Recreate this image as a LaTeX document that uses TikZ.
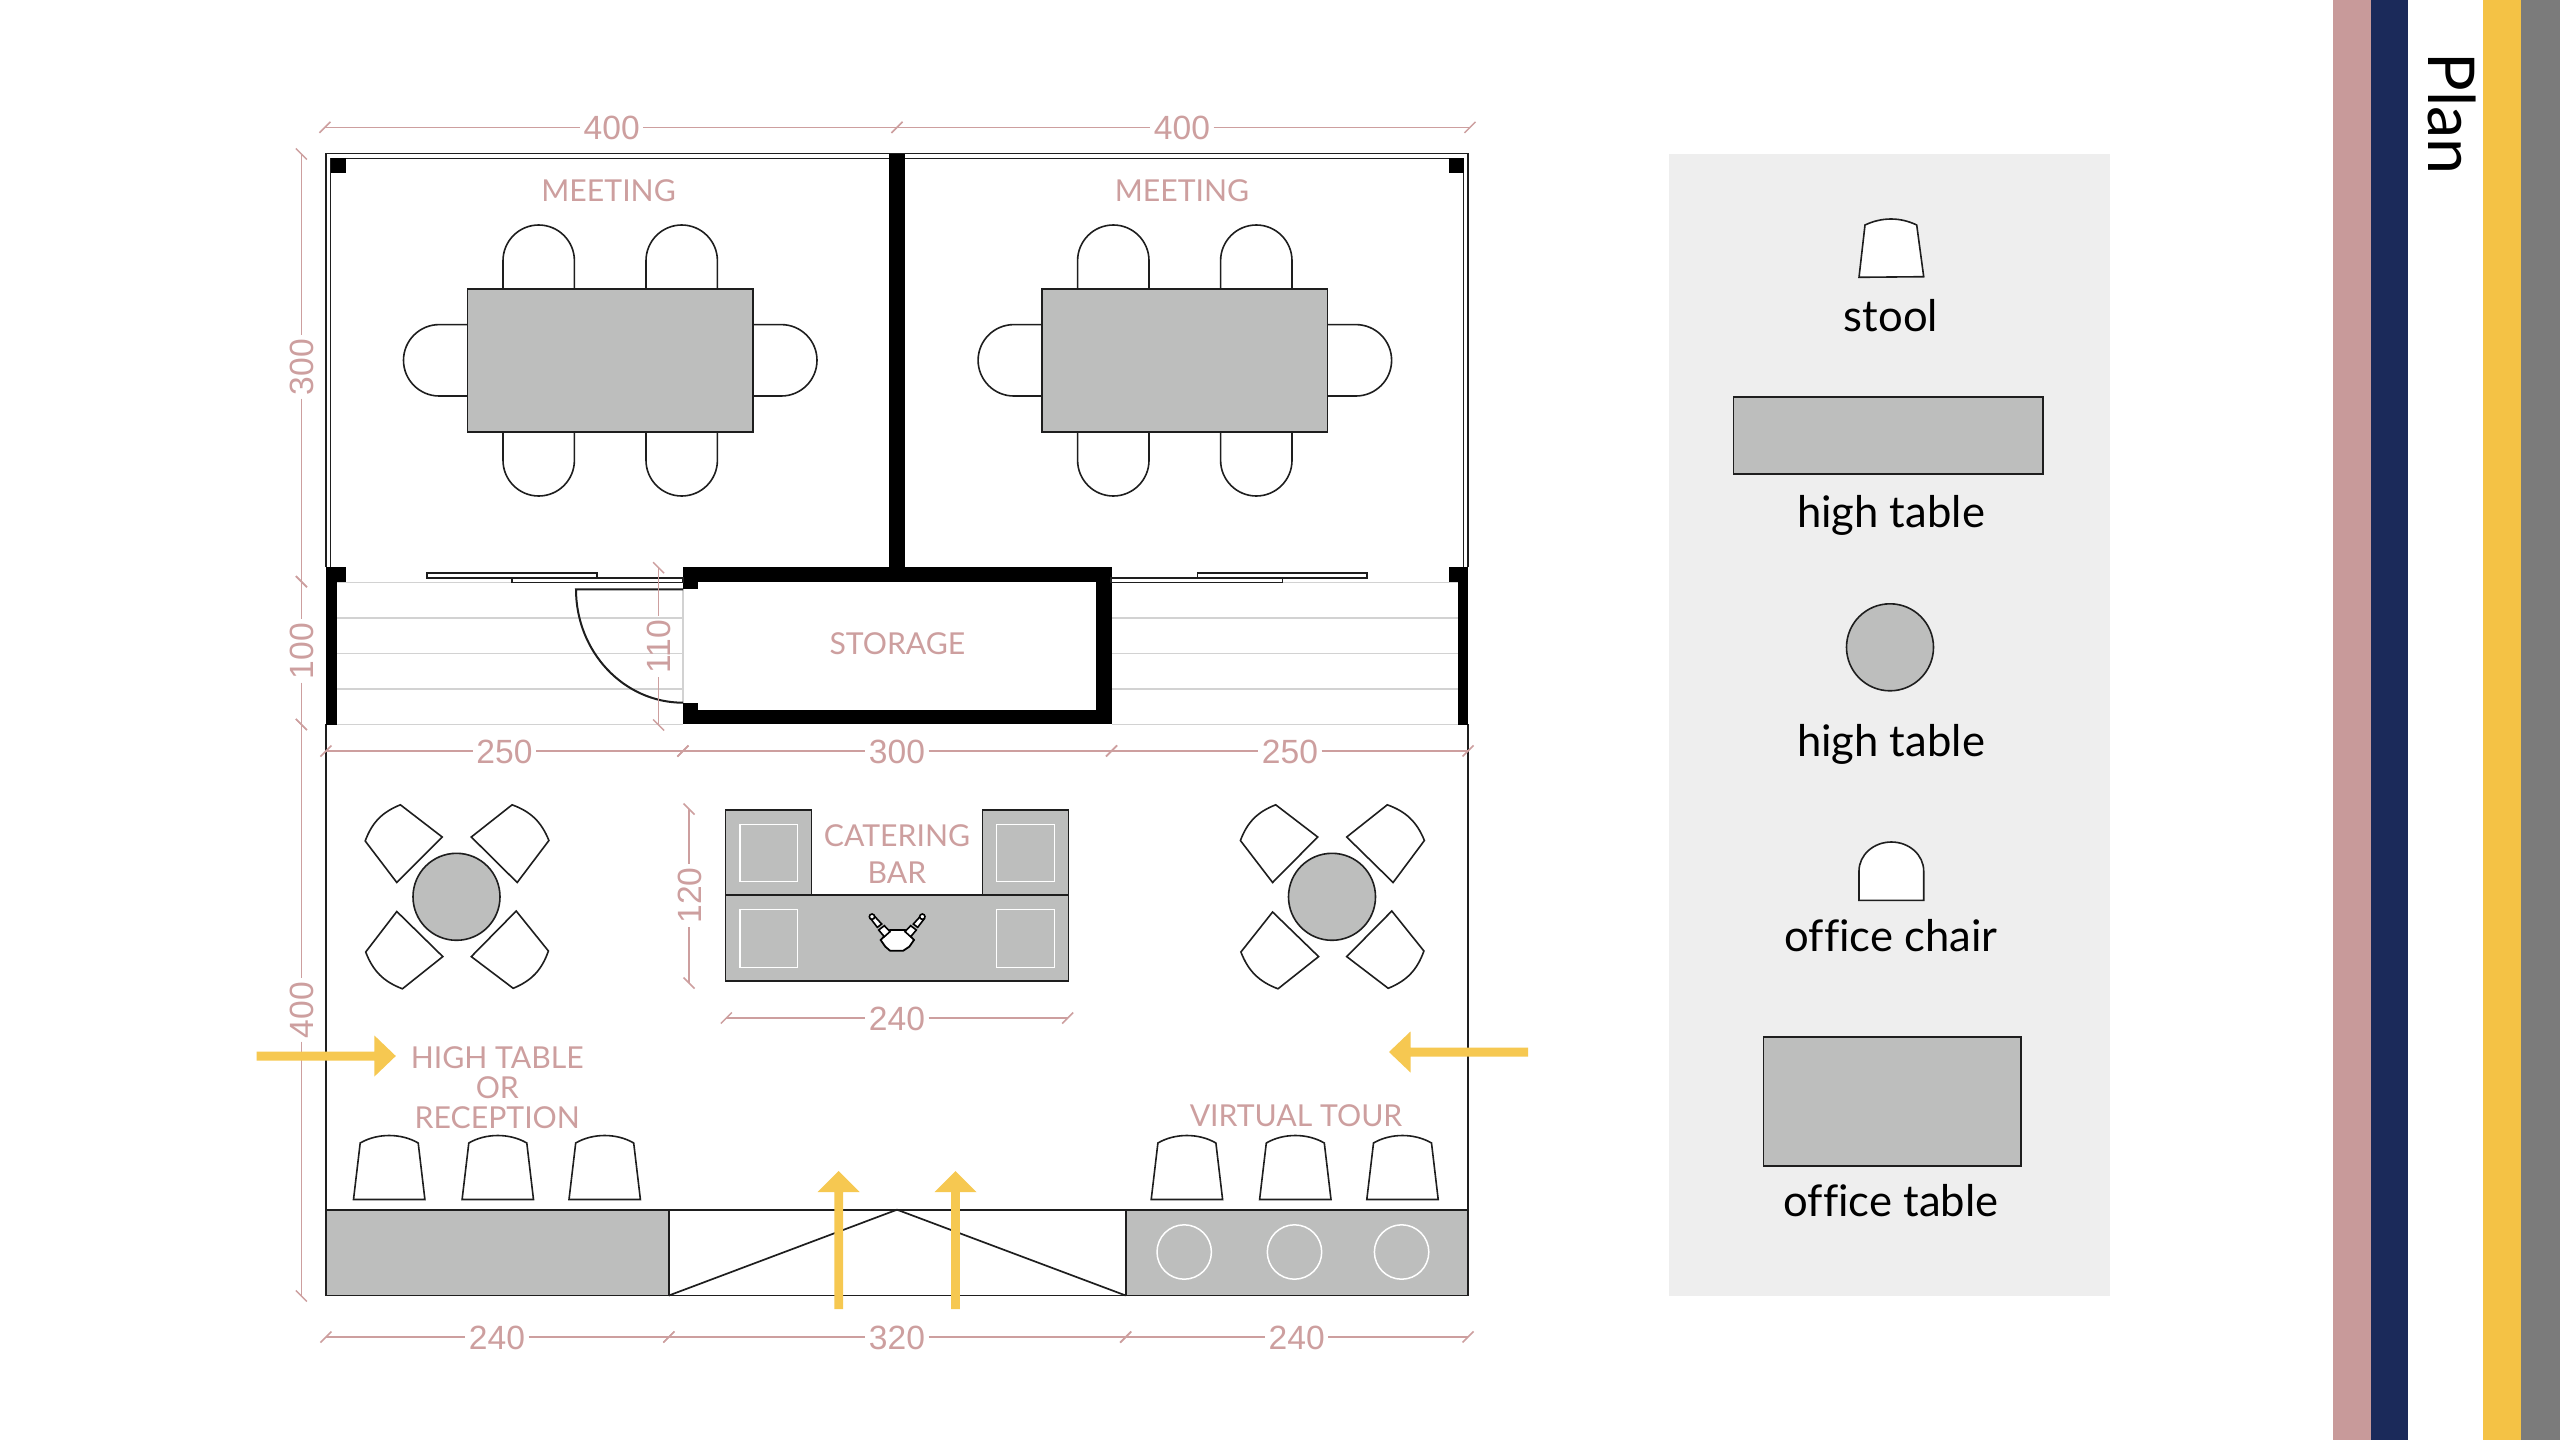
\documentclass[tikz,border=0pt]{standalone}
\usepackage{fontspec}
\setmainfont[Ligatures=NoCommon]{Lato}
\newfontfamily\dimfont{Liberation Sans}
\definecolor{pinkc}{HTML}{CD9F9F}
\definecolor{stripepink}{HTML}{C89A9A}
\definecolor{navyc}{HTML}{1B2A5A}
\definecolor{stripeyel}{HTML}{F4C245}
\definecolor{greyst}{HTML}{7B7B7B}
\definecolor{arrowy}{HTML}{F6C851}
\definecolor{tablec}{HTML}{BDBEBD}
\definecolor{panelc}{HTML}{EEEEEE}
\definecolor{linec}{HTML}{1E1E1E}
\definecolor{floorl}{HTML}{D2D2D2}
\tikzset{
  x=0.5pt,y=-0.5pt,
  dimline/.style={draw=pinkc,line width=0.75pt},
  dimlabel/.style={text=pinkc,font=\dimfont\fontsize{16.8}{16.8}\selectfont,inner xsep=1.6pt,inner ysep=0pt,text height=12pt,text depth=0pt},
  roomlabel/.style={text=pinkc,font=\fontsize{15.1}{15.1}\selectfont,inner sep=0pt,align=center},
  legendlabel/.style={text=black,font=\fontsize{21.8}{21.8}\selectfont,inner sep=0pt,anchor=base},
  furn/.style={draw=linec,line width=0.8pt,fill=white},
  tabletop/.style={draw=linec,line width=0.8pt,fill=tablec},
  plainline/.style={draw=linec,line width=0.85pt},
  floorline/.style={draw=floorl,line width=0.7pt},
  whiteline/.style={draw=white,line width=0.75pt},
  yarrow/.style={fill=arrowy},
  wallfill/.style={fill=black},
}
% horizontal dimension: name, y, x1, x2, label x, text
\newcommand{\dimH}[6]{%
  \coordinate (#1-a) at (#3,#2); \coordinate (#1-b) at (#4,#2);
  \node[dimlabel] (#1-l) at (#5,#2) {#6};
  \draw[dimline] (#1-a) -- (#1-l) -- (#1-b);
  \draw[dimline] ([shift={(-5.5,5.5)}]#1-a) -- ([shift={(5.5,-5.5)}]#1-a);
  \draw[dimline] ([shift={(-5.5,5.5)}]#1-b) -- ([shift={(5.5,-5.5)}]#1-b);
}
% vertical dimension: name, x, y1, y2, label y, text
\newcommand{\dimV}[6]{%
  \coordinate (#1-a) at (#2,#3); \coordinate (#1-b) at (#2,#4);
  \node[dimlabel,rotate=90] (#1-l) at (#2,#5) {#6};
  \draw[dimline] (#1-a) -- (#1-l) -- (#1-b);
  \draw[dimline] ([shift={(-5.5,-5.5)}]#1-a) -- ([shift={(5.5,5.5)}]#1-a);
  \draw[dimline] ([shift={(-5.5,-5.5)}]#1-b) -- ([shift={(5.5,5.5)}]#1-b);
}
\newcommand{\mchair}[3]{%
  \begin{scope}[shift={(#1,#2)},rotate=#3]
  \draw[furn] (-35.7,0) -- (-35.7,-28.3) .. controls (-35.7,-48) and (-19.7,-64) .. (0,-64)
     .. controls (19.7,-64) and (35.7,-48) .. (35.7,-28.3) -- (35.7,0);
  \end{scope}}
\newcommand{\meeting}[1]{%
  \begin{scope}[shift={(#1,0)}]
  \mchair{503+35.7}{289}{0}
  \mchair{646+35.7}{289}{0}
  \mchair{503+35.7}{432}{180}
  \mchair{646+35.7}{432}{180}
  \mchair{467.5}{360.3}{90}
  \mchair{753}{360.3}{-90}
  \filldraw[tabletop] (467.5,289) rectangle (753,432);
  \end{scope}}
% quarter chair: clockwise corners, last two joined by the bulge
\newcommand{\qchair}[4]{\draw[furn] (#1) -- (#2) -- (#3) -- (#4) to[bend left=24] (#1) -- cycle;}
\newcommand{\stool}[1]{\draw[furn] (#1-35.7,1199.5) -- (#1+35.7,1199.5) -- (#1+29,1143)
   .. controls (#1+12,1133) and (#1-12,1133) .. (#1-29,1143) -- cycle;}
\newcommand{\whitebox}[4]{\draw[whiteline] (#1,#2) rectangle (#3,#4);}
\begin{document}
\begin{tikzpicture}
\useasboundingbox (0,0) rectangle (2560,1440);
\fill[white] (0,0) rectangle (2560,1440);
% stripes
\fill[stripepink] (2333.3,0) rectangle (2371,1440);
\fill[navyc] (2371,0) rectangle (2408,1440);
\fill[stripeyel] (2482.7,0) rectangle (2521,1440);
\fill[greyst] (2521,0) rectangle (2560,1440);
\node[rotate=-90,anchor=base west,inner sep=0pt,font=\fontsize{32.3}{32.3}\selectfont] (plan) at (2428,52) {Plan};
% legend
\fill[panelc] (1669,154) rectangle (2110,1296);
\draw[furn] (1859,277.3) -- (1923.7,276.7) -- (1916.7,225) .. controls (1900,217) and (1882,217) .. (1865,225) -- cycle;
\node[legendlabel] (lstool) at (1891,331) {stool};
\filldraw[tabletop] (1733.3,397) rectangle (2042.7,474);
\node[legendlabel] (lhigh1) at (1891,527) {high table};
\filldraw[tabletop] (1890,647.3) circle[radius=43.5];
\node[legendlabel] (lhigh2) at (1891,756.5) {high table};
\draw[furn] (1859,900.3) -- (1859,871) .. controls (1859,855) and (1873.5,842) .. (1891.35,842)
  .. controls (1909.2,842) and (1923.7,855) .. (1923.7,871) -- (1923.7,900.3) -- cycle;
\node[legendlabel] (lchair) at (1891,951.5) {office chair};
\filldraw[tabletop] (1763.3,1037) rectangle (2021,1165.8);
\node[legendlabel] (ltable) at (1891,1216.5) {office table};
% floor lines
\foreach \yy in {582.3,617.8,653.3,689,724.3}{
  \draw[floorline] (337,\yy) -- (683,\yy);
  \draw[floorline] (1112,\yy) -- (1458,\yy);
}
\draw[floorline] (683,589) -- (683,703);
% outer outline
\draw[plainline] (326,567) -- (326,153.5) -- (1468,153.5) -- (1468,567);
\draw[plainline] (330.5,567) -- (330.5,158.4) -- (1463.5,158.4) -- (1463.5,567);
\draw[plainline] (326,724) -- (326,1295.5) -- (1468,1295.5) -- (1468,724);
% walls
\fill[wallfill] (330.5,158.4) rectangle (345.6,172.6);
\fill[wallfill] (1449,158.4) rectangle (1463.5,172.6);
\fill[wallfill] (889.4,153.5) rectangle (905,567.3);
\fill[wallfill] (326,567.3) rectangle (345.6,582.3);
\fill[wallfill] (326,567.3) rectangle (336.7,724.5);
\fill[wallfill] (1449,567.3) rectangle (1468,582.3);
\fill[wallfill] (1458,567.3) rectangle (1468,724.5);
\fill[wallfill] (682.7,567.3) rectangle (1112,582.3);
\fill[wallfill] (682.7,710) rectangle (1112,724.3);
\fill[wallfill] (1096,567.3) rectangle (1112,724.3);
\fill[wallfill] (682.7,567.3) rectangle (697.7,589.3);
\fill[wallfill] (682.7,702.7) rectangle (697.7,724.3);
% sliding doors and swing door
\filldraw[furn] (427,573) rectangle (596.7,577.7);
\filldraw[furn] (511.7,577.7) rectangle (683,582.3);
\filldraw[furn] (1197.3,573) rectangle (1367,577.7);
\filldraw[furn] (1111,577.7) rectangle (1282.3,582.3);
\draw[plainline,line width=1pt] (683,589.3) -- (576,589.3) .. controls (576,651.9) and (623.9,702.7) .. (683,702.7);
% meeting rooms
\meeting{0}
\meeting{574.6}
% catering bar
\filldraw[tabletop] (725.4,810) rectangle (811.6,895);
\filldraw[tabletop] (982.6,810) rectangle (1068.3,895);
\filldraw[tabletop] (725.4,895) rectangle (1068.3,981);
\whitebox{740.2}{824.5}{797.3}{881.6}
\whitebox{996.3}{824.5}{1054.5}{881.6}
\whitebox{740.2}{909.7}{797.3}{967.3}
\whitebox{996.3}{909.7}{1054.5}{967.3}
\begin{scope}[shift={(840,880)},x=0.16667pt,y=-0.16667pt]
  \draw[furn,draw=black,line width=0.9pt] (150,150) -- (195,150) -- (222,180) -- (208,200) -- (190,212) -- (150,212) -- (136,200) -- (122,180) -- cycle;
  \draw[furn,draw=black,line width=0.8pt] (116,150) -- (133,137) -- (150,155) -- (133,170) -- cycle;
  \draw[furn,draw=black,line width=0.8pt] (229,150) -- (212,137) -- (195,155) -- (212,170) -- cycle;
  \draw[furn,draw=black,line width=0.8pt] (112,142) -- (125,132) -- (103,108) -- (92,116) -- cycle;
  \draw[furn,draw=black,line width=0.8pt] (233,142) -- (220,132) -- (242,108) -- (253,116) -- cycle;
  \filldraw[furn,draw=black,line width=0.8pt] (96,110) circle[radius=8];
  \filldraw[furn,draw=black,line width=0.8pt] (247,110) circle[radius=8];
\end{scope}
% high tables with chairs
\qchair{400.4,804.8}{442.2,837}{396.8,882.5}{365.2,841}
\qchair{548.9,840.5}{517.2,882.5}{471.3,837}{512.1,804.8}
\qchair{365.7,952}{396.8,911.5}{442.8,956.6}{402.4,988.8}
\qchair{513.2,988.3}{471.3,956.6}{516.2,911}{548.4,951}
\filldraw[tabletop] (456.5,896.8) circle[radius=43.5];
\qchair{1275.7,804.8}{1317.7,837}{1272.6,882.5}{1240.4,840.5}
\qchair{1424.4,840.5}{1393.1,882.5}{1346.7,837}{1387.3,804.8}
\qchair{1240.9,952}{1272.6,912}{1318.6,956.6}{1278,988.8}
\qchair{1388.2,988.3}{1346.7,956.6}{1391.8,911}{1423.9,951}
\filldraw[tabletop] (1332,896.8) circle[radius=43.5];
% stools
\stool{389.2}\stool{497.8}\stool{604.7}
\stool{1186.9}\stool{1295.3}\stool{1402.5}
% bottom strip
\filldraw[tabletop] (326,1209.7) rectangle (668.8,1295.5);
\filldraw[tabletop] (1125.7,1209.7) rectangle (1468,1295.5);
\draw[plainline] (668.8,1209.7) -- (1125.7,1209.7);
\draw[plainline] (668.8,1295.5) -- (897,1209.7) -- (1125.7,1295.5);
\draw[whiteline] (1184.2,1252) circle[radius=27.2];
\draw[whiteline] (1294.5,1252) circle[radius=27.2];
\draw[whiteline] (1401.6,1252) circle[radius=27.2];
% room labels
\node[roomlabel] (m1) at (608.6,190.5) {MEETING};
\node[roomlabel] (m2) at (1182,190.5) {MEETING};
\node[roomlabel] (st) at (897.4,643.5) {STORAGE};
\node[roomlabel] (cat) at (897,836) {CATERING};
\node[roomlabel] (bar) at (897,873) {BAR};
\node[roomlabel] (hi) at (497.3,1058) {HIGH TABLE};
\node[roomlabel] (or) at (497.3,1088) {OR};
\node[roomlabel] (rec) at (497.3,1117.4) {RECEPTION};
\node[roomlabel] (vt) at (1296,1116) {VIRTUAL TOUR};
% dimensions
\dimH{t1}{127.3}{325}{897}{611.7}{400}
\dimH{t2}{127.3}{897}{1470}{1182}{400}
\dimH{m1d}{751}{326}{683}{504.5}{250}
\dimH{m2d}{751}{683}{1111.5}{897}{300}
\dimH{m3d}{751}{1111.5}{1468}{1290}{250}
\dimH{b1}{1337}{326}{668.8}{497}{240}
\dimH{b2}{1337}{668.8}{1125.7}{897}{320}
\dimH{b3}{1337}{1125.7}{1468}{1296.7}{240}
\dimH{c1}{1018}{726.4}{1067.7}{897}{240}
\dimV{v1}{301.4}{154}{581.6}{367}{300}
\dimV{v2}{301.4}{581.6}{724.5}{651}{100}
\dimV{v3}{301.4}{724.5}{1296}{1010}{400}
\dimV{v4}{658.6}{567.7}{725}{646.7}{110}
\dimV{v5}{689}{809}{983}{895.4}{120}
% yellow arrows
\fill[yarrow] (256.5,1051.5) -- (374.4,1051.5) -- (374.4,1035.5) -- (395.8,1056) -- (374.4,1076.5) -- (374.4,1060.5) -- (256.5,1060.5) -- cycle;
\fill[yarrow] (1528,1047.5) -- (1410.5,1047.5) -- (1410.5,1031.5) -- (1389,1052) -- (1410.5,1072.5) -- (1410.5,1056.5) -- (1528,1056.5) -- cycle;
\fill[yarrow] (834.4,1309) -- (834.4,1192) -- (817.7,1192) -- (838.7,1171) -- (859.7,1192) -- (843,1192) -- (843,1309) -- cycle;
\fill[yarrow] (951.2,1309) -- (951.2,1192) -- (934.5,1192) -- (955.5,1171) -- (976.5,1192) -- (959.8,1192) -- (959.8,1309) -- cycle;
\end{tikzpicture}
\end{document}
